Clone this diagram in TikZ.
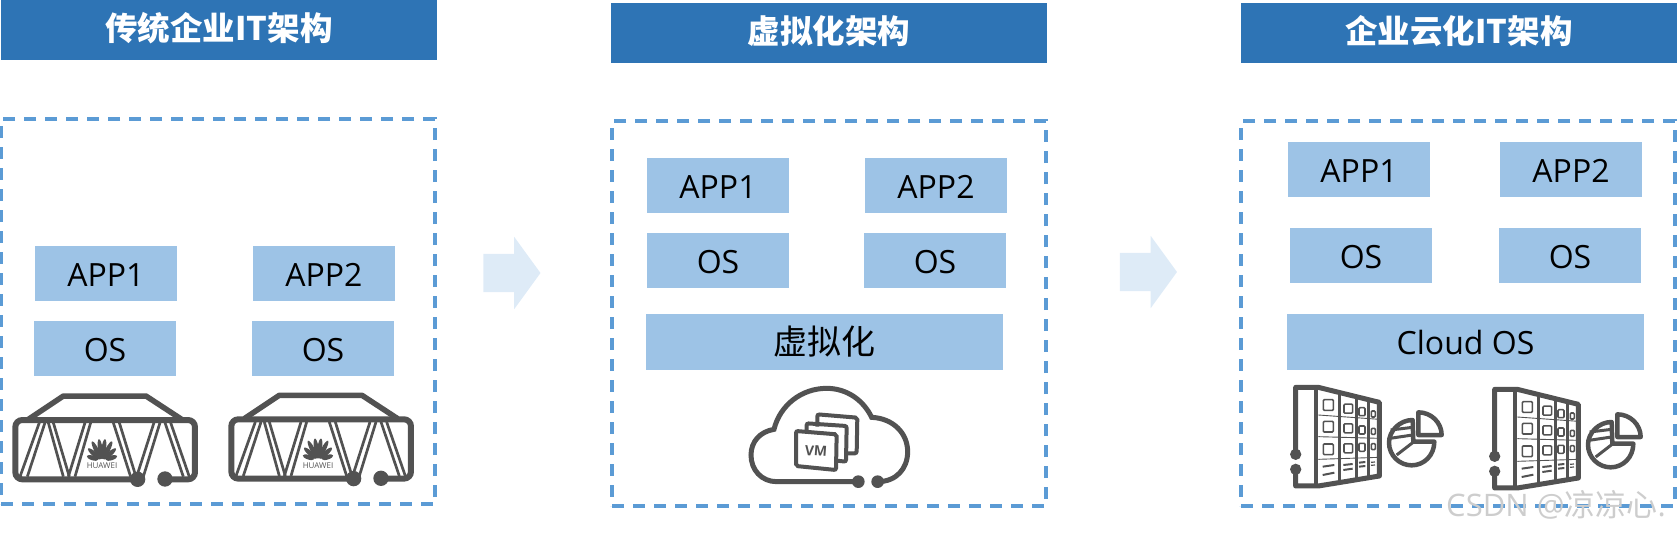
\documentclass[tikz,border=0pt]{standalone}
\usepackage{fontspec}
\setmainfont{Open Sans}
\newfontfamily\cjk{Noto Sans CJK SC}
\usetikzlibrary{shapes.arrows}
\definecolor{titleblue}{RGB}{46,116,181}
\definecolor{layerblue}{RGB}{157,195,230}
\definecolor{dashblue}{RGB}{91,155,213}
\definecolor{arrowblue}{RGB}{222,235,247}
\definecolor{icongray}{RGB}{82,82,82}
\definecolor{markgray}{RGB}{205,205,205}
\tikzset{
  titlebar/.style={anchor=north west, fill=titleblue, text=white, minimum width=436pt, minimum height=60pt,
    inner sep=0pt, outer sep=0pt, text height=20.6pt, text depth=0pt, font=\cjk\fontsize{32.5}{36}\selectfont\bfseries},
  dashbox/.style={anchor=north west, draw=dashblue, line width=3.5pt, dash pattern=on 12pt off 9pt,
    minimum width=434pt, minimum height=385pt, inner sep=0pt, outer sep=0pt},
  layerbox/.style={anchor=north west, fill=layerblue, text=black, minimum width=142pt, minimum height=55pt,
    inner sep=0pt, outer sep=0pt, text height=26.5pt, text depth=0pt, font=\fontsize{32}{36}\selectfont},
  widebox/.style={layerbox, minimum width=357pt, minimum height=56pt, text height=25pt},
  flowarrow/.style={single arrow, fill=arrowblue, minimum width=72pt, minimum height=57pt, inner xsep=0pt, inner ysep=19pt, outer sep=0pt,
    single arrow head extend=17pt, single arrow tip angle=108, single arrow head indent=0pt},
  serverpic/.pic={
    \draw[icongray, line width=6pt, rounded corners=7pt] (413,358) -- (46,358) -- (46,180) -- (585,180) -- (585,358) -- (495,358);
    \draw[icongray, line width=5.5pt, line join=round] (85,178) -- (190,108) -- (438,108) -- (545,178);
    \fill[icongray] (413,358) circle (23) (495,357) circle (23);
    \foreach \xa/\xb in {118/60, 135/82, 145/190, 160/208, 255/205, 272/225, 340/392, 358/408, 462/410, 480/430, 495/550, 512/568}
      \draw[icongray, line width=2.7pt] (\xa,188) -- (\xb,350);
    \foreach \a/\r/\l in {-72/30/18, -48/32/24, -27/36/30, -8/36/30, 8/36/30, 27/36/30, 48/32/24, 72/30/18}
      \fill[icongray] ({306+\r*sin(\a)},{303-\r*cos(\a)}) ellipse [x radius=7, y radius=\l, rotate=-\a];
    \node[text=icongray, font=\fontsize{8}{9}\selectfont, inner sep=0pt] (logotext) at (306,318) {HUAWEI};
  },
  cloudpic/.pic={
    \draw[icongray, line width=5pt] (475,335) -- (230,335) .. controls (185,335) and (153,300) .. (153,255)
      .. controls (153,215) and (180,185) .. (222,178) .. controls (240,105) and (305,55) .. (380,55)
      .. controls (440,55) and (490,90) .. (515,142) .. controls (580,145) and (623,190) .. (623,245)
      .. controls (623,295) and (590,335) .. (533,335);
    \fill[icongray] (475,335) circle (19) (533,335) circle (19);
    \draw[icongray, line width=4pt, rounded corners=2pt] (352,170) -- (352,133) -- (472,143) -- (470,250) -- (442,250);
    \draw[icongray, line width=4pt, rounded corners=2pt] (320,190) -- (320,160) -- (440,168) -- (438,275) -- (410,272);
    \draw[icongray, line width=4pt, rounded corners=2pt] (288,183) -- (410,193) -- (408,300) -- (288,288) -- cycle;
    \node[text=icongray, font=\fontsize{14}{16}\selectfont\bfseries, inner sep=0pt, rotate=-4] (vmtext) at (348,243) {VM};
  },
  storagepic/.pic={
    \draw[icongray, line width=5pt, line join=round] (107,253) -- (107,52) -- (175,52) -- (358,97) -- (358,318) -- (175,348) -- (107,348) -- (107,298);
    \fill[icongray] (107,253) circle (17) (107,298) circle (17);
    \draw[icongray, line width=4.5pt] (168,52) -- (168,348);
    \draw[icongray, line width=2.8pt] (238,72) -- (238,330) (290,84) -- (290,324) (325,92) -- (325,320);
    \draw[icongray, line width=.9pt] (175,135) -- (358,148) (175,200) -- (358,205) (175,268) -- (358,262);
    \foreach \x/\y/\w/\h in {205/105/30/32, 205/170/30/32, 205/238/30/32, 265/116/26/27, 265/175/26/27, 265/235/26/27,
                             306/125/18/24, 306/180/18/24, 306/232/18/24, 340/132/12/18, 340/184/12/18, 340/230/12/18}
      \draw[icongray, line width=1.6pt, rounded corners=1pt] ({\x-\w/2},{\y-\h/2}) rectangle ({\x+\w/2},{\y+\h/2});
    \draw[icongray, line width=2pt] (188,290) -- (223,285) (188,315) -- (223,308) (250,285) -- (278,282) (250,300) -- (278,296)
      (297,278) -- (316,276) (297,290) -- (316,288);
    \draw[icongray, line width=1.2pt] (333,277) -- (345,276) (333,286) -- (345,285);
    \draw[icongray, line width=4.5pt, line join=round] (458,150) .. controls (420,150) and (387,182) .. (387,218)
      .. controls (387,256) and (418,286) .. (455,286) .. controls (492,286) and (523,256) .. (523,215) -- (460,215) -- cycle;
    \draw[icongray, line width=4.5pt, line join=round] (475,127) .. controls (514,127) and (545,158) .. (545,195) -- (475,195) -- cycle;
    \draw[icongray, line width=3pt] (392,180) -- (458,172) (390,205) -- (458,195) (410,255) -- (458,218);
  }
}

\begin{document}
\begin{tikzpicture}[x=1pt, y=-1pt]
        \useasboundingbox (0,0) rectangle (1677,536);
        % titles
        \node[titlebar] (titleA) at (1,0) {传统企业IT架构};
        \node[titlebar] (titleB) at (611,3) {虚拟化架构};
        \node[titlebar] (titleC) at (1241,3) {企业云化IT架构};
        % panels
        \node[dashbox] (panelA) at (1,119) {};
        \node[dashbox] (panelB) at (612,121) {};
        \node[dashbox] (panelC) at (1241,121) {};
        % arrows
        \node[flowarrow] (arrowA) at (505,273) {};
        \node[flowarrow] (arrowB) at (1141.5,272) {};
        % first panel
        \node[layerbox] (appA) at (35,246) {APP1};
        \node[layerbox] (appB) at (253,246) {APP2};
        \node[layerbox] (osA) at (34,321) {OS};
        \node[layerbox] (osB) at (252,321) {OS};
        \pic[scale=.3333] (serverA) at (0,360) {serverpic};
        \pic[scale=.3333] (serverB) at (216,359.3) {serverpic};
        % second panel
        \node[layerbox] (appC) at (647,158) {APP1};
        \node[layerbox] (appD) at (865,158) {APP2};
        \node[layerbox] (osC) at (647,233) {OS};
        \node[layerbox] (osD) at (864,233) {OS};
        \node[widebox] (virt) at (646,314) {\cjk\fontsize{34}{38}\selectfont 虚拟化};
        \pic[scale=.3333] (cloudA) at (700,370) {cloudpic};
        % third panel
        \node[layerbox] (appE) at (1288,142) {APP1};
        \node[layerbox] (appF) at (1500,142) {APP2};
        \node[layerbox] (osE) at (1290,228) {OS};
        \node[layerbox] (osF) at (1499,228) {OS};
        \node[widebox] (cloudos) at (1287,314) {Cloud OS};
        \pic[scale=.3333] (storeA) at (1260,370) {storagepic};
        \pic[scale=.3333] (storeB) at (1459,372) {storagepic};
        \node[text=markgray, anchor=west, inner sep=0pt, font=\fontsize{31}{34}\selectfont] (mark) at (1446,505) {CSDN @{\cjk 凉凉心}.};
      \end{tikzpicture}
\end{document}
